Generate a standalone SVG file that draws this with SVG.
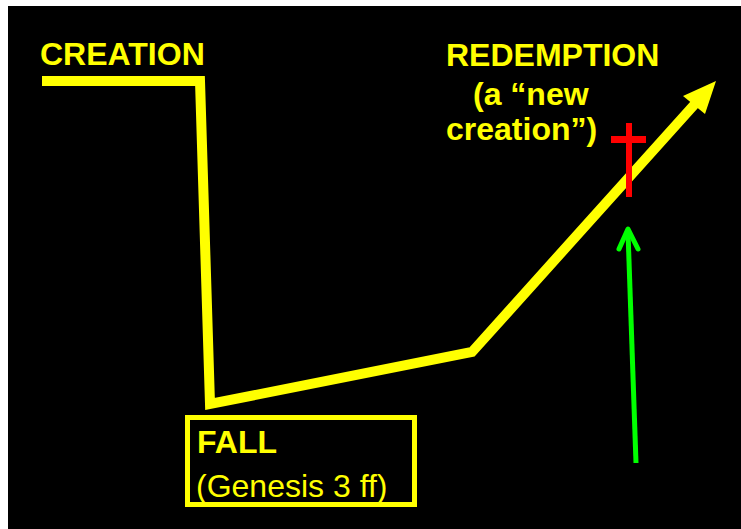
<svg xmlns="http://www.w3.org/2000/svg" width="741" height="529" viewBox="0 0 741 529">
  <style>
    .path { fill: none; stroke: #FFFF00; stroke-width: 10; stroke-linejoin: miter; stroke-linecap: butt; }
    .lbl { font-family: "Liberation Sans", Arial, sans-serif; font-size: 32px; fill: #FFFF00; }
    .b { font-weight: bold; }
  </style>
  <rect x="0" y="0" width="741" height="529" fill="#FFFFFF"/>
  <rect x="8" y="6" width="733" height="523" fill="#000000"/>

  <g id="connectors">
    <!-- history line: creation, fall, slow rise, redemption -->
    <polyline class="path" points="42,81 200,81 210,404 472,352 703,95"/>
    <polygon points="716,81 683,96 705,114" fill="#FFFF00"/>
    <!-- green pointer to the cross -->
    <line x1="636" y1="463" x2="628" y2="232" stroke="#00FF00" stroke-width="5"/>
    <polyline points="619,249 628,229 638,249" fill="none" stroke="#00FF00" stroke-width="5" stroke-linecap="round" stroke-linejoin="round"/>
  </g>

  <g id="creation">
    <text class="lbl b" x="40" y="65">CREATION</text>
  </g>

  <g id="redemption">
    <text class="lbl b" x="446" y="66">REDEMPTION</text>
    <text class="lbl b" x="473" y="105">(a “new</text>
    <text class="lbl b" x="446" y="140">creation”)</text>
  </g>

  <g id="cross">
    <rect x="626" y="123" width="6" height="74" fill="#FF0000"/>
    <rect x="611" y="136" width="35" height="7" fill="#FF0000"/>
  </g>

  <g id="fall">
    <rect x="187.5" y="417.5" width="227" height="87" fill="none" stroke="#FFFF00" stroke-width="5"/>
    <text class="lbl b" x="197" y="453">FALL</text>
    <text class="lbl" x="196" y="497">(Genesis 3 ff)</text>
  </g>
</svg>
